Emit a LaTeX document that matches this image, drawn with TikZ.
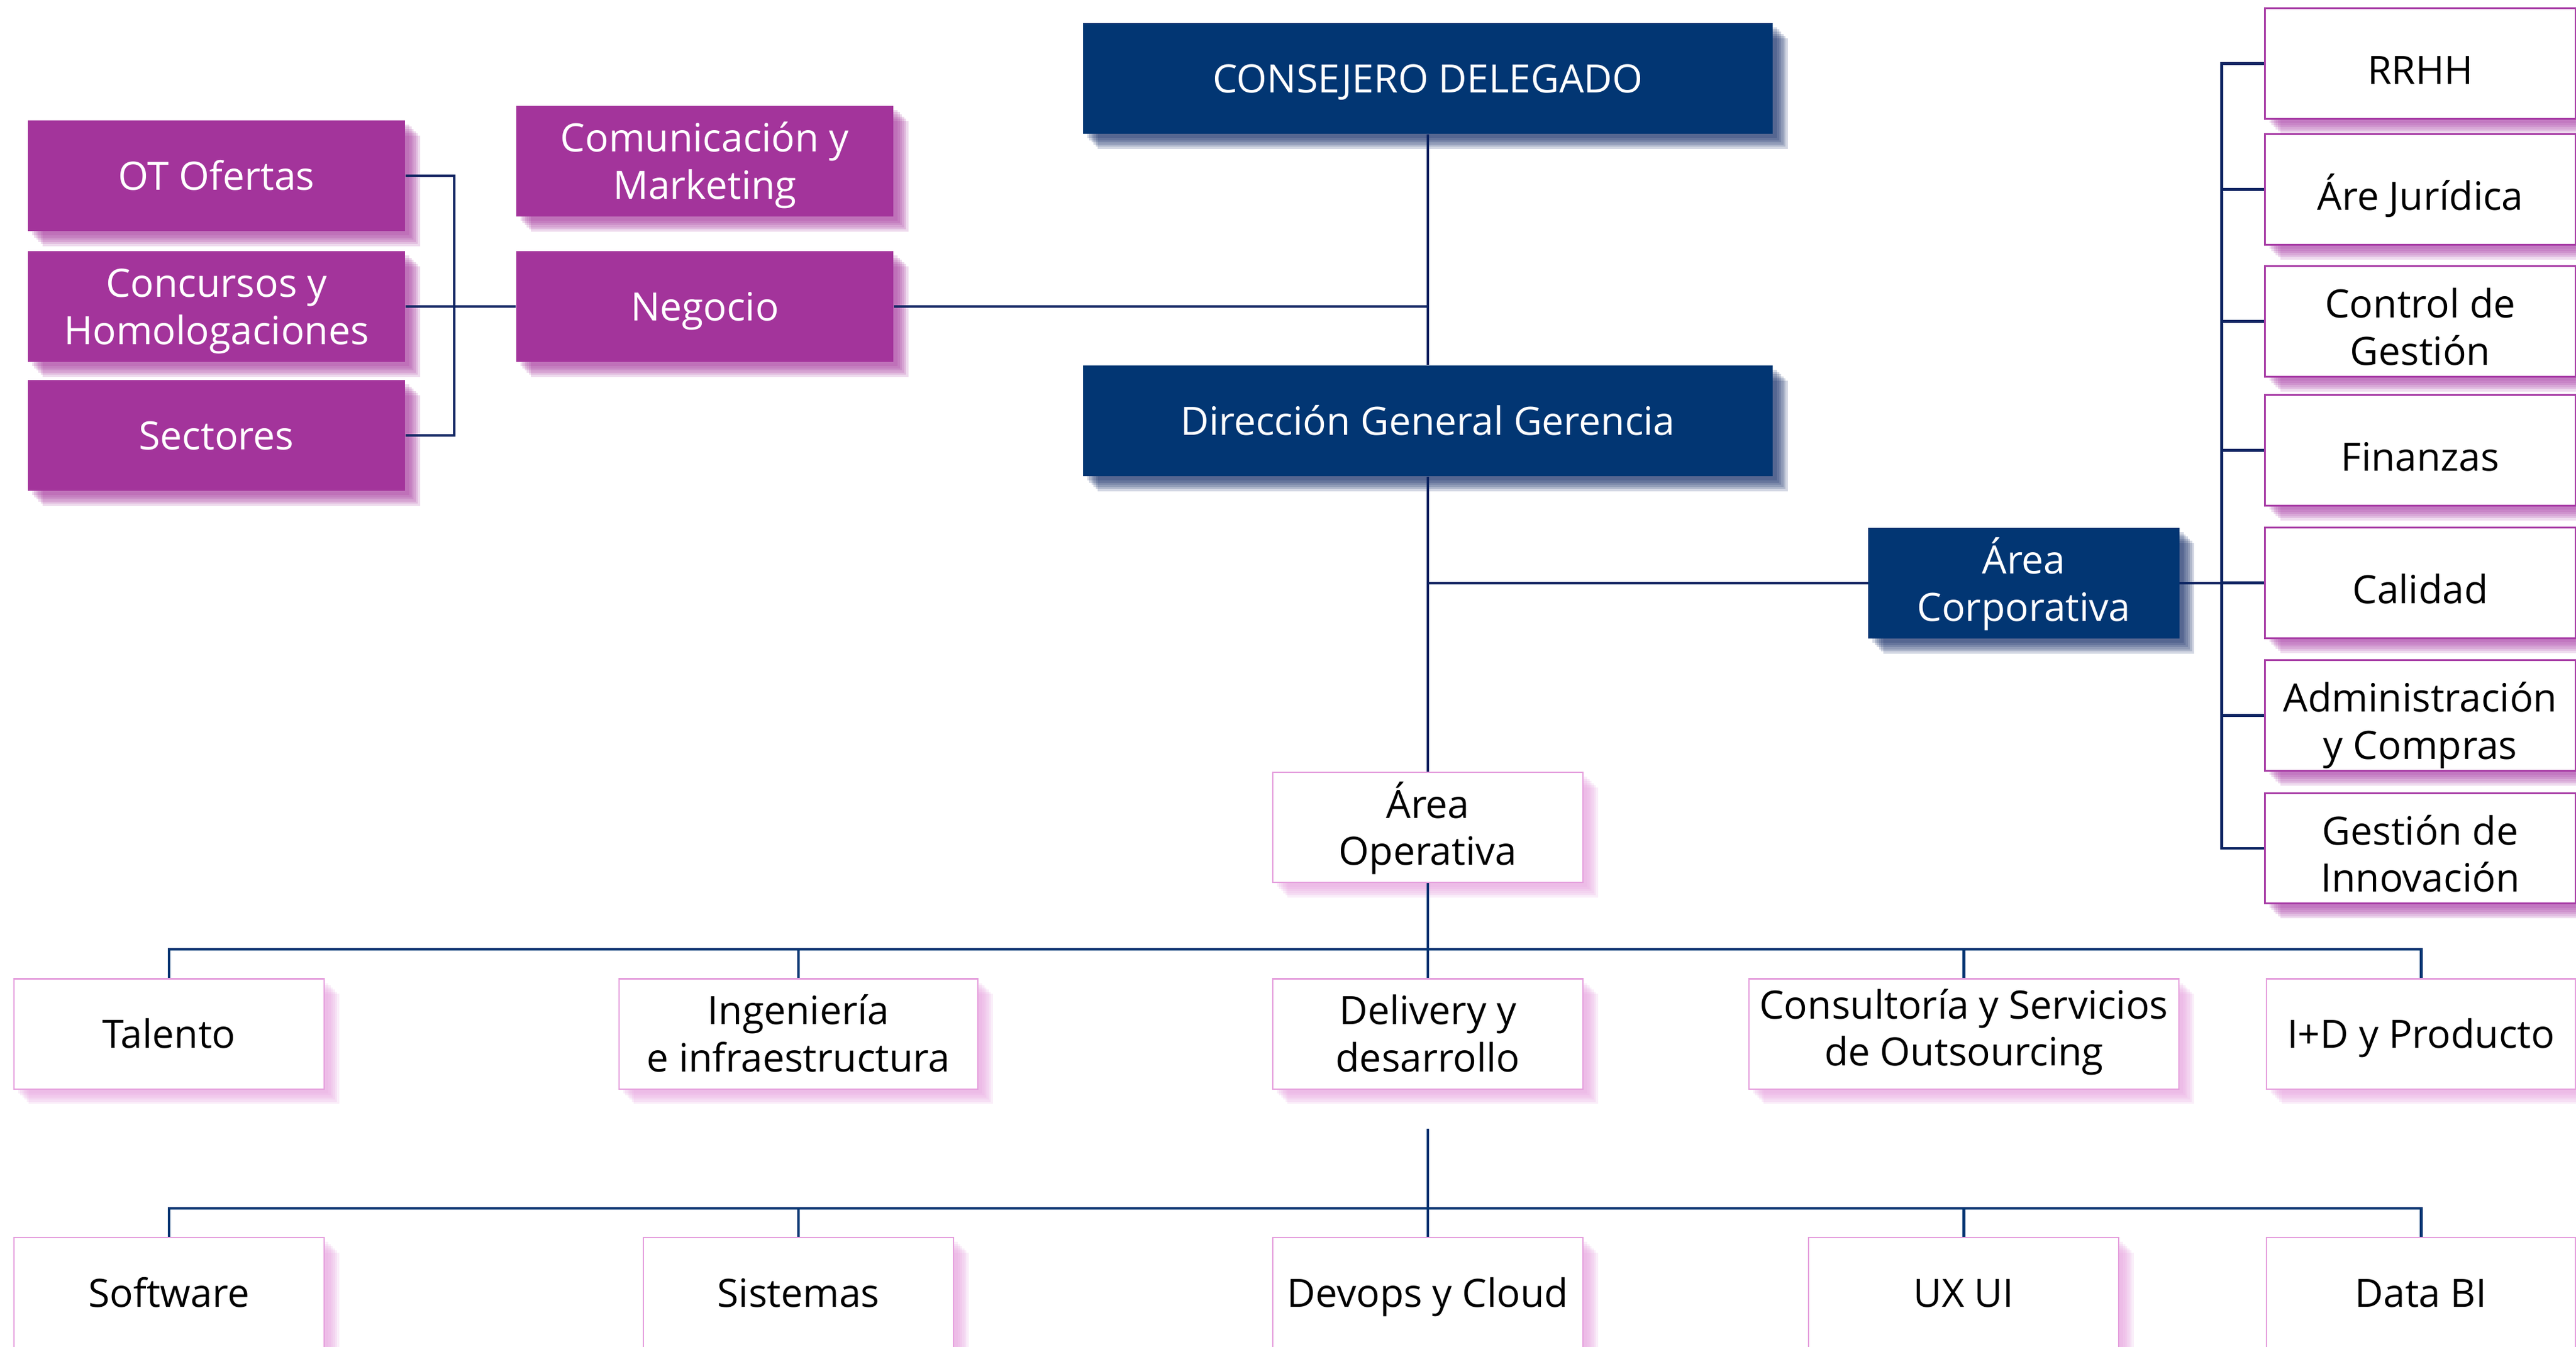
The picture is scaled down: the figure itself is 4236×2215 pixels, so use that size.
\documentclass[tikz,border=0pt]{standalone}
\usepackage{fontspec}
\setmainfont{Open Sans}
\usepackage{xcolor}
\usepackage{tikz}
\usetikzlibrary{calc,shadows}
\definecolor{navy}{HTML}{023673}
\definecolor{wire}{HTML}{0C2462}
\definecolor{plum}{HTML}{A3349B}
\definecolor{plumline}{HTML}{A83DA6}
\definecolor{pink}{HTML}{E59FDD}
\tikzset{
  txt/.style={font=\fontsize{18.25}{22}\selectfont, align=center, inner sep=0pt, minimum height=1.82cm},
  one/.style={align=none, text height=16.5pt, text depth=2.9pt},
  onelow/.style={align=none, text height=22.6pt, text depth=3pt},
  two/.style={text height=38.3pt, text depth=3pt},
  twolow/.style={text height=43.7pt, text depth=3pt},
  fuzz/.style={
    general shadow={fill=#1, opacity=.18, shadow xshift=2pt, shadow yshift=-2pt},
    general shadow={fill=#1, opacity=.18, shadow xshift=3pt, shadow yshift=-3pt},
    general shadow={fill=#1, opacity=.18, shadow xshift=4pt, shadow yshift=-4pt},
    general shadow={fill=#1, opacity=.18, shadow xshift=5pt, shadow yshift=-5pt},
    general shadow={fill=#1, opacity=.18, shadow xshift=6pt, shadow yshift=-6pt},
    general shadow={fill=#1, opacity=.18, shadow xshift=7pt, shadow yshift=-7pt}},
  head/.style={txt, fill=navy, text=white, fuzz=wire},
  biz/.style={txt, fill=plum, text=white, minimum width=6.2cm, fuzz=plum},
  corp/.style={txt, fill=white, draw=plumline, line width=0.85pt, text=black, minimum width=5.1cm, minimum height=1.81cm, fuzz=plumline},
  ops/.style={txt, fill=white, draw=pink, line width=0.6pt, text=black, minimum width=5.1cm, minimum height=1.81cm, fuzz=pink},
  link/.style={draw=wire, line width=1.4pt},
  bus/.style={draw=navy, line width=1.4pt},
}
\begin{document}
\begin{tikzpicture}[x=0.01cm, y=-0.01cm]
  \useasboundingbox (0,0) rectangle (4236,2215);
  % direccion
  \node[head, one, minimum width=11.34cm] (cd) at (2348,129) {CONSEJERO DELEGADO};
  \node[head, one, minimum width=11.34cm] (dgg) at (2348,692) {Dirección General Gerencia};
  \node[head, two, minimum width=5.11cm] (acorp) at (3328,959) {Área\\Corporativa};
  % negocio
  \node[biz, one] (ot) at (356,289) {OT Ofertas};
  \node[biz, two] (conc) at (356,504) {Concursos y\\Homologaciones};
  \node[biz, one] (sect) at (356,716) {Sectores};
  \node[biz, two] (comu) at (1159,265) {Comunicación y\\Marketing};
  \node[biz, one] (neg) at (1159,504) {Negocio};
  % area corporativa
  \node[corp, onelow] (rrhh) at (3980,104.5) {RRHH};
  \node[corp, onelow] (jur) at (3980,311.5) {Áre Jurídica};
  \node[corp, twolow] (ctrl) at (3980,528.5) {Control de\\Gestión};
  \node[corp, onelow] (fin) at (3980,740.5) {Finanzas};
  \node[corp, onelow] (cal) at (3980,958.5) {Calidad};
  \node[corp, twolow] (adm) at (3980,1176.5) {Administración\\y Compras};
  \node[corp, twolow] (inno) at (3980,1395) {Gestión de\\Innovación};
  % area operativa
  \node[ops, two] (aop) at (2348,1360.5) {Área\\Operativa};
  \node[ops, one] (tal) at (278,1700) {Talento};
  \node[ops, two, minimum width=5.9cm] (ing) at (1313,1700) {Ingeniería\\e infraestructura};
  \node[ops, two] (deliv) at (2348,1700) {Delivery y\\desarrollo};
  \node[ops, two, text height=33.1pt, minimum width=7.07cm] (cons) at (3229.5,1700) {Consultoría y Servicios\\de Outsourcing};
  \node[ops, one, minimum width=5.08cm] (imas) at (3981,1700) {I+D y Producto};
  \node[ops, one] (soft) at (278,2125.5) {Software};
  \node[ops, one] (sist) at (1313,2125.5) {Sistemas};
  \node[ops, one] (devops) at (2348,2125.5) {Devops y Cloud};
  \node[ops, one] (ux) at (3229,2125.5) {UX UI};
  \node[ops, one, minimum width=5.08cm] (data) at (3981,2125.5) {Data BI};
  % puntos de union
  \coordinate (lb) at (747,504);
  \coordinate (rb) at (3653,959);
  \coordinate (bus1) at (2348,1561);
  \coordinate (dtop) at (2348,1856);
  \coordinate (bus2) at (2348,1987);
  \draw[link] (cd.south) -- (dgg.north);
  \draw[link] (neg.east) -- (neg.east -| cd.south);
  \draw[link] (dgg.south) -- (aop.north);
  \draw[link] (acorp.west) -- (acorp.west -| dgg.south);
  \draw[link] (ot.east) -| (lb) |- (sect.east);
  \draw[link] (conc.east) -- (neg.west);
  \draw[link] (acorp.east) -- (rb);
  \draw[link] (rrhh.west) -| (rb) |- (inno.west);
  \foreach \n in {jur,ctrl,fin,cal,adm}
    \draw[link] (\n.west) -- (\n.west -| rb);
  \draw[bus] (aop.south) -- (deliv.north);
  \foreach \n in {tal,ing,cons,imas}
    \draw[bus] (\n.north) |- (bus1);
  \draw[bus] (dtop) -- (devops.north);
  \foreach \n in {soft,sist,ux,data}
    \draw[bus] (\n.north) |- (bus2);
\end{tikzpicture}
\end{document}
